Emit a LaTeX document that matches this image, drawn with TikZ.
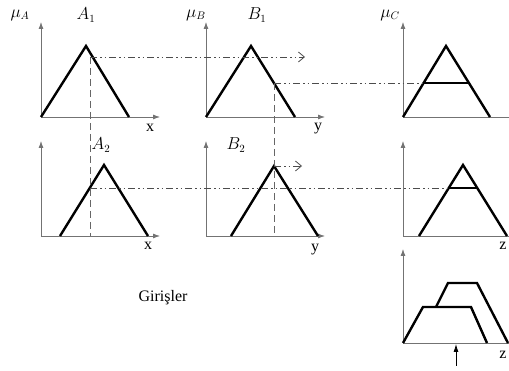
\documentclass[tikz,border=0pt]{standalone}
\usepackage{fontspec}
\setmainfont{Liberation Serif}
\usetikzlibrary{arrows.meta}

\begin{document}
\begin{tikzpicture}[x=1pt,y=-1pt,font=\fontsize{16}{19}\selectfont,
  axis/.style={draw=black!55,line width=0.8pt,-{Latex[length=7pt,width=5pt]}},
  zaxis/.style={draw=black!55,line width=0.8pt},
  memb/.style={line width=2.4pt,line join=miter},
  cut/.style={draw=black!70,line width=0.8pt,dash pattern=on 7pt off 3pt on 1.5pt off 3pt on 1.5pt off 3pt},
  proj/.style={draw=black!60,line width=0.8pt,dash pattern=on 7pt off 4pt},
  barb/.style={-{Straight Barb[length=6pt,width=10pt,line width=0.8pt]}}]
\useasboundingbox (0,0) rectangle (509,371);
% axes
\foreach \n/\ox/\oy/\ex/\ty in {A1/41/117/160/22,B1/206/117/325/22,A2/41/236/160/141,B2/206/236/325/141}{
  \coordinate (o\n) at (\ox,\oy);
  \coordinate (x\n) at (\ex,\oy);
  \coordinate (y\n) at (\ox,\ty);
  \draw[axis] (o\n) -- (y\n);
  \draw[axis] (o\n) -- (x\n);
}
\foreach \n/\oy/\ty in {C1/117/22,C2/236/141,C3/343/249}{
  \coordinate (o\n) at (403,\oy);
  \coordinate (x\n) at (509,\oy);
  \coordinate (y\n) at (403,\ty);
  \draw[axis] (o\n) -- (y\n);
  \draw[zaxis] (o\n) -- (x\n);
}
% membership functions
\draw[memb] (41,117) -- (86,46) -- (129,117);
\draw[memb] (206,117) -- (251,46) -- (295,117);
\draw[memb] (403,117) -- (446,46) -- (490,117);
\draw[memb] (60,236) -- (104,165) -- (148,236);
\draw[memb] (231,236) -- (274,166) -- (318,236);
\draw[memb] (419,236) -- (463,165) -- (507,236);
\draw[memb] (403,343) -- (423,307) -- (471,307) -- (487,343);
\draw[memb] (436,307) -- (448,283) -- (477,283) -- (508,343);
% cut points
\coordinate (pA1) at (90,57);
\coordinate (eA1) at (305,57);
\coordinate (fA1) at (90,236);
\coordinate (pB1) at (274,83);
\coordinate (fB1) at (274,236);
\coordinate (cC1l) at (424,83);
\coordinate (cC1r) at (468,83);
\coordinate (pA2) at (90,188);
\coordinate (cC2l) at (448,188);
\coordinate (cC2r) at (477,188);
\coordinate (pB2) at (274,166);
\coordinate (eB2) at (302,166);
\coordinate (zin) at (456,366);
\coordinate (zout) at (456,344);
\draw[proj] (pA1) -- (fA1);
\draw[proj] (pB1) -- (fB1);
\draw[cut,barb] (pA1) -- (eA1);
\draw[cut] (pB1) -- (cC1l);
\draw[memb] (cC1l) -- (cC1r);
\draw[cut] (pA2) -- (cC2l);
\draw[memb] (cC2l) -- (cC2r);
\draw[cut,barb] (pB2) -- (eB2);
\draw[line width=0.8pt,-{Latex[length=8pt,width=5pt]}] (zin) -- (zout);
% labels
\node (muA) at (20,15) {$\mu_{A}$};
\node (lA1) at (86,15) {$A_1$};
\node (muB) at (196,15) {$\mu_{B}$};
\node (lB1) at (257,15) {$B_1$};
\node (muC) at (390,15) {$\mu_{C}$};
\node (lA2) at (101,145) {$A_2$};
\node (lB2) at (236,145) {$B_2$};
\node (xA1) at (150,128) {x};
\node (xA2) at (148,246) {x};
\node (yB1) at (318,129) {y};
\node (yB2) at (315,250) {y};
\node (zC2) at (503,246) {z};
\node (zC3) at (503,355) {z};
\node (inp) at (163,298) {Girişler};
\end{tikzpicture}
\end{document}
